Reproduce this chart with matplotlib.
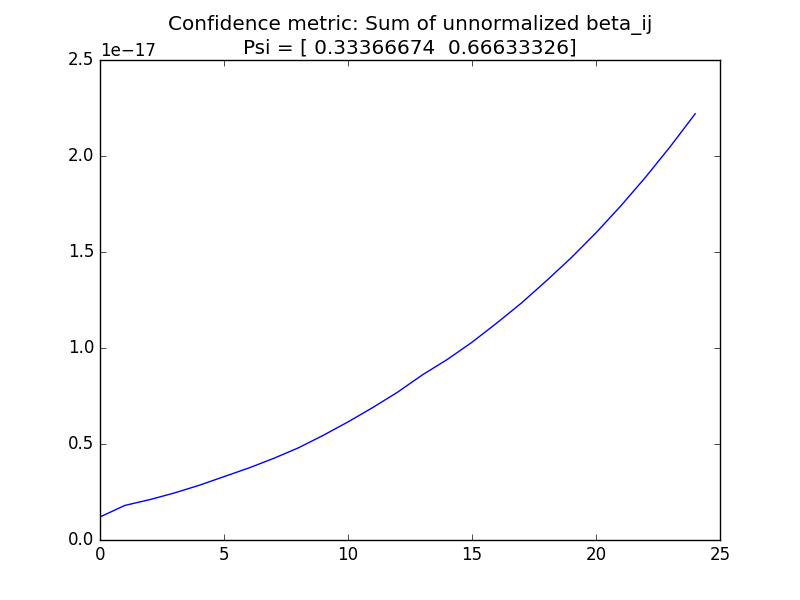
import matplotlib
matplotlib.use("Agg")
import matplotlib.pyplot as plt

plt.style.use("classic")

iterations = list(range(25))
beta_sum = [0.12, 0.18, 0.21, 0.245, 0.285, 0.33, 0.375, 0.425, 0.48, 0.545,
            0.615, 0.69, 0.77, 0.86, 0.94, 1.03, 1.13, 1.235, 1.35, 1.47,
            1.60, 1.74, 1.89, 2.05, 2.22]
beta_sum = [v * 1e-17 for v in beta_sum]

fig = plt.figure(figsize=(8, 6), dpi=100)
fig.patch.set_facecolor("white")
ax = fig.add_subplot(111)
ax.plot(iterations, beta_sum, color="blue")
ax.set_xlim(0, 25)
ax.set_ylim(0, 2.5e-17)
ax.set_title("Confidence metric: Sum of unnormalized beta_ij\nPsi = [ 0.33366674  0.66633326]")
fig.savefig("out.png", dpi=100, facecolor="white")
